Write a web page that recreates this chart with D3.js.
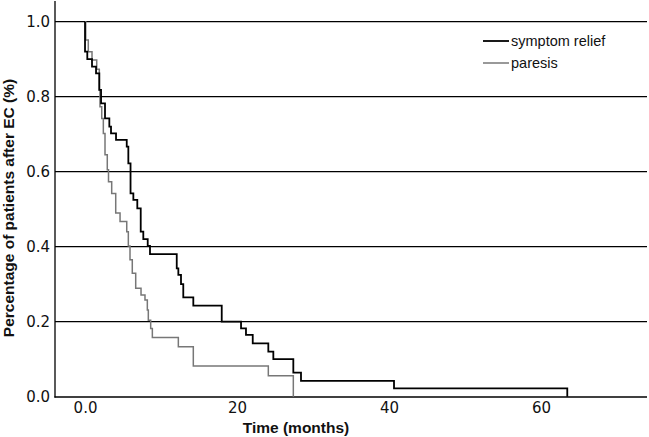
<!DOCTYPE html>
<html><head><meta charset="utf-8">
<script src="https://cdn.jsdelivr.net/npm/d3@7"></script>
<style>body{margin:0;background:#fff}svg{display:block}</style>
</head><body>
<script>
// Data (time in months, survival proportion after each step)
const reliefTimes = [0, 0, 0.30, 0.92, 1.45, 1.88, 2.11, 2.63, 3.20, 3.42, 4.08, 5.49, 5.70, 5.99, 6.36, 6.88, 7.33, 7.67, 8.25, 8.55, 12.07, 12.28, 12.63, 12.93, 14.25, 17.99, 20.53, 21.18, 22.07, 24.12, 24.78, 27.41, 28.42, 40.66, 63.46];
const reliefValues = [1.0, 0.92, 0.90, 0.88, 0.862, 0.818, 0.782, 0.742, 0.72, 0.702, 0.685, 0.667, 0.622, 0.542, 0.525, 0.502, 0.44, 0.42, 0.402, 0.38, 0.342, 0.325, 0.30, 0.265, 0.243, 0.20, 0.182, 0.165, 0.142, 0.12, 0.10, 0.064, 0.042, 0.022, 0.0];
const paresisTimes = [0, 0.09, 0.43, 0.92, 1.54, 1.88, 1.97, 2.20, 2.41, 2.63, 2.93, 3.09, 3.51, 4.04, 4.61, 5.49, 5.70, 5.92, 6.22, 6.67, 7.37, 7.89, 8.20, 8.33, 8.64, 8.86, 12.28, 14.25, 24.12, 27.41];
const paresisValues = [1.0, 0.951, 0.92, 0.898, 0.873, 0.818, 0.773, 0.742, 0.702, 0.645, 0.605, 0.573, 0.542, 0.49, 0.467, 0.44, 0.402, 0.365, 0.329, 0.289, 0.271, 0.258, 0.231, 0.204, 0.182, 0.158, 0.133, 0.082, 0.056, 0.0];
const xTicks = [0, 20, 40, 60];
const xTickLabels = ["0.0", "20", "40", "60"];
const yTicks = [0, 0.2, 0.4, 0.6, 0.8, 1.0];
const seriesNames = ["symptom relief", "paresis"];

const W = 649, H = 437;
const svg = d3.select("body").append("svg").attr("width", W).attr("height", H);
const x = d3.scaleLinear().domain([-3.95, 73.95]).range([55, 647]);
const y = d3.scaleLinear().domain([0, 1]).range([396.7, 21.7]);

// gridlines
svg.append("g").selectAll("line").data(yTicks.filter(d => d > 0)).join("line")
  .attr("x1", 55).attr("x2", 647).attr("y1", d => y(d)).attr("y2", d => y(d))
  .attr("stroke", "#000").attr("stroke-width", 1.3);

// y axis
const yAxis = svg.append("g").attr("transform", "translate(55,0)")
  .call(d3.axisLeft(y).tickValues(yTicks).tickFormat(d3.format(".1f")).tickSize(0).tickPadding(5));
yAxis.select(".domain").remove();
yAxis.selectAll("text").attr("font-family", "DejaVu Sans").attr("font-size", 15).attr("fill", "#111");
svg.append("line").attr("x1", 55).attr("x2", 55).attr("y1", 1).attr("y2", 397.5).attr("stroke", "#000").attr("stroke-width", 1.3);

// x axis
const xAxis = svg.append("g").attr("transform", "translate(0,397)")
  .call(d3.axisBottom(x).tickValues(xTicks).tickFormat((d, i) => xTickLabels[i]).tickSize(0).tickPadding(5));
xAxis.select(".domain").remove();
xAxis.selectAll("text").attr("font-family", "DejaVu Sans").attr("font-size", 15).attr("fill", "#111");
svg.append("line").attr("x1", 54.4).attr("x2", 647).attr("y1", 397).attr("y2", 397).attr("stroke", "#000").attr("stroke-width", 1.3);

// curves
const line = d3.line().x(d => x(d[0])).y(d => y(d[1])).curve(d3.curveStepAfter);
const relief = reliefTimes.map((t, i) => [t, reliefValues[i]]);
const paresis = paresisTimes.map((t, i) => [t, paresisValues[i]]);
svg.append("path").datum(paresis).attr("d", line).attr("fill", "none").attr("stroke", "#777").attr("stroke-width", 1.5);
svg.append("path").datum(relief).attr("d", line).attr("fill", "none").attr("stroke", "#000").attr("stroke-width", 1.8);

// legend
const leg = svg.append("g");
[["#000", 1.8, 41], ["#777", 1.5, 63]].forEach((s, i) => {
  leg.append("line").attr("x1", 483).attr("x2", 509).attr("y1", s[2]).attr("y2", s[2]).attr("stroke", s[0]).attr("stroke-width", s[1]);
  leg.append("text").attr("x", 511).attr("y", s[2] + 5).text(seriesNames[i])
    .attr("font-family", "Liberation Sans, Arial").attr("font-size", 14.5).attr("fill", "#111");
});

// titles
svg.append("text").attr("x", 296).attr("y", 433).attr("text-anchor", "middle")
  .attr("font-family", "Liberation Sans, Arial").attr("font-weight", "bold").attr("font-size", 15.5).attr("fill", "#111")
  .text("Time (months)");
svg.append("text").attr("transform", "translate(14,208) rotate(-90)").attr("text-anchor", "middle")
  .attr("font-family", "Liberation Sans, Arial").attr("font-weight", "bold").attr("font-size", 15.5).attr("fill", "#111")
  .text("Percentage of patients after  EC (%)");
</script>
</body></html>
